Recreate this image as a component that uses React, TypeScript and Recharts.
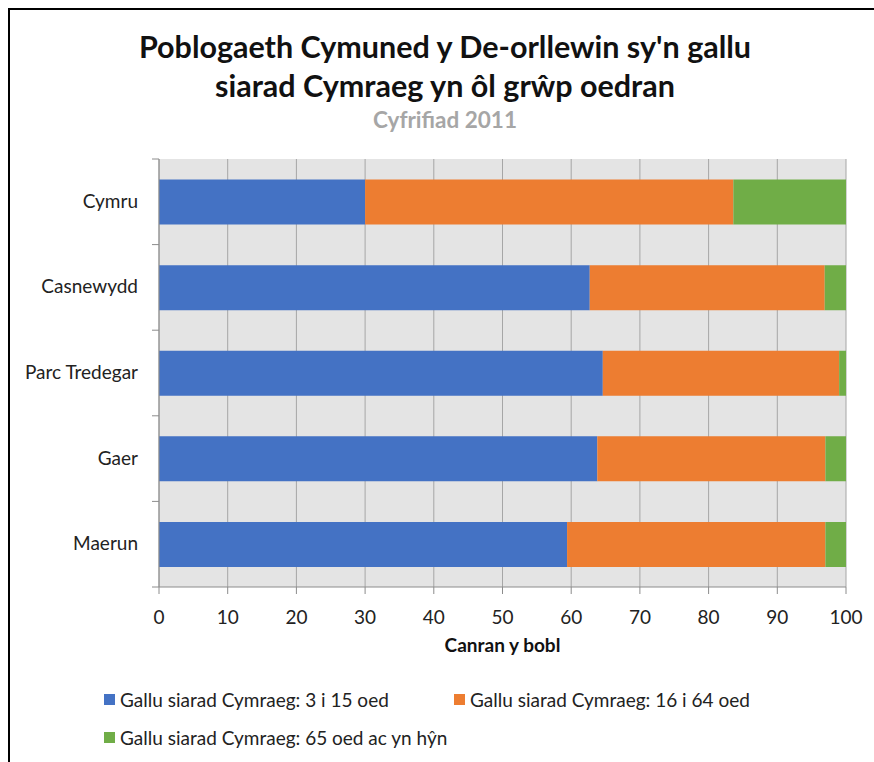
import React from 'react';
import { Bar, BarChart, CartesianGrid, XAxis, YAxis } from 'recharts';

const areas = ['Cymru', 'Casnewydd', 'Parc Tredegar', 'Gaer', 'Maerun'];
const age3to15 = [30.0, 62.7, 64.6, 63.8, 59.4];
const age16to64 = [53.6, 34.2, 34.4, 33.2, 37.6];
const age65plus = [16.4, 3.1, 1.0, 3.0, 3.0];
const xTicks = [0, 10, 20, 30, 40, 50, 60, 70, 80, 90, 100];

const seriesNames = [
  'Gallu siarad Cymraeg: 3 i 15 oed',
  'Gallu siarad Cymraeg: 16 i 64 oed',
  'Gallu siarad Cymraeg: 65 oed ac yn hŷn',
];
const colors = ['#4472C4', '#ED7D31', '#70AD47'];

const data = areas.map((area, i) => ({
  area,
  a: age3to15[i],
  b: age16to64[i],
  c: age65plus[i],
}));

const FONT = 'Lato, "Open Sans", sans-serif';
const PLOT_TOP = 159;
const PLOT_BOTTOM = 587;
const band = (PLOT_BOTTOM - PLOT_TOP) / areas.length;

const AreaTick = (props: any) => {
  const { x, y, payload, index } = props;
  const last = index === areas.length - 1;
  return (
    <g>
      <line x1={x + 1} x2={x + 8} y1={y - band / 2} y2={y - band / 2} stroke="#8c8c8c" />
      {last && (
        <line x1={x + 1} x2={x + 8} y1={y + band / 2} y2={y + band / 2} stroke="#8c8c8c" />
      )}
      <text x={x - 13} y={y} dy={6} textAnchor="end" fontSize={19} fill="#222" fontFamily={FONT}>
        {payload.value}
      </text>
    </g>
  );
};

const LegendItem = ({ color, label, left, top }: { color: string; label: string; left: number; top: number }) => (
  <div style={{ position: 'absolute', left, top, display: 'flex', alignItems: 'center', fontFamily: FONT, fontSize: 19, color: '#222', whiteSpace: 'nowrap' }}>
    <span style={{ width: 11, height: 11, background: color, marginRight: 5, display: 'inline-block' }} />
    {label}
  </div>
);

export default function App() {
  return (
    <div style={{ position: 'fixed', left: 0, top: 0, width: 874, height: 762, overflow: 'hidden', background: '#fff' }}>
      <div style={{ position: 'absolute', left: 8, top: 8, width: 900, height: 800, border: '2px solid #000' }} />
      <div style={{ position: 'absolute', left: 8, width: 874, top: 27, textAlign: 'center', fontFamily: FONT, fontWeight: 700, fontSize: 30.5, lineHeight: '39px', color: '#111' }}>
        Poblogaeth Cymuned y De-orllewin sy'n gallu
        <br />
        siarad Cymraeg yn ôl grŵp oedran
      </div>
      <div style={{ position: 'absolute', left: 8, width: 874, top: 106, textAlign: 'center', fontFamily: FONT, fontWeight: 700, fontSize: 22.5, color: '#a6a6a6' }}>
        Cyfrifiad 2011
      </div>
      <div style={{ position: 'absolute', left: 0, top: 0 }}>
        <BarChart
          width={874}
          height={762}
          data={data}
          layout="vertical"
          barCategoryGap="24%"
          margin={{ top: PLOT_TOP, right: 28, bottom: 762 - PLOT_BOTTOM - 70, left: 0 }}
        >
          <CartesianGrid horizontal={false} stroke="#a6a6a6" fill="#e4e4e4" />
          <XAxis
            type="number"
            domain={[0, 100]}
            ticks={xTicks}
            height={70}
            axisLine={{ stroke: '#8c8c8c' }}
            tickLine={{ stroke: '#8c8c8c' }}
            tickSize={7}
            tick={{ fontSize: 19, fill: '#222', fontFamily: FONT }}
            tickMargin={17}
            label={{ value: 'Canran y bobl', position: 'insideBottom', offset: 5, style: { fontSize: 19, fontWeight: 700, fill: '#111', fontFamily: FONT } }}
          />
          <YAxis
            type="category"
            dataKey="area"
            width={159}
            axisLine={{ stroke: '#8c8c8c' }}
            tickLine={false}
            tick={<AreaTick />}
          />
          <Bar dataKey="a" stackId="s" fill={colors[0]} isAnimationActive={false} />
          <Bar dataKey="b" stackId="s" fill={colors[1]} isAnimationActive={false} />
          <Bar dataKey="c" stackId="s" fill={colors[2]} isAnimationActive={false} />
        </BarChart>
      </div>
      <LegendItem color={colors[0]} label={seriesNames[0]} left={104} top={688} />
      <LegendItem color={colors[1]} label={seriesNames[1]} left={454} top={688} />
      <LegendItem color={colors[2]} label={seriesNames[2]} left={104} top={726} />
    </div>
  );
}
